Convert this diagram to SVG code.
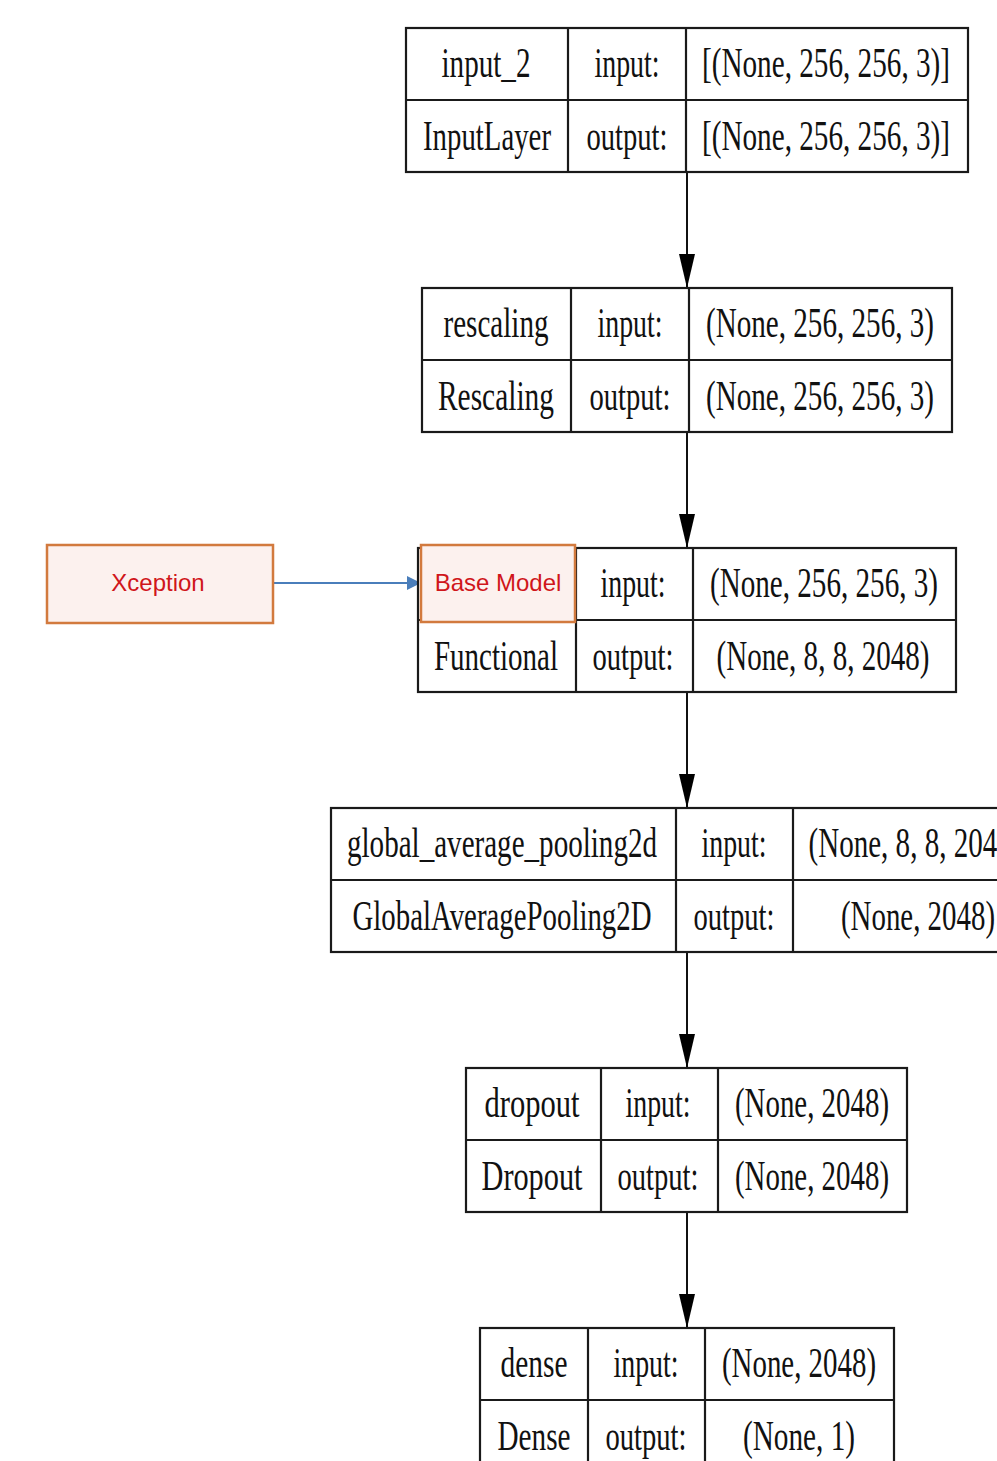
<svg xmlns="http://www.w3.org/2000/svg" width="997" height="1461" viewBox="0 0 997 1461">
<style>
.cell{fill:#fff;stroke:#1a1a1a;stroke-width:2.2}
.ln{stroke:#1a1a1a;stroke-width:2.2;fill:none}
.t{font-family:"Liberation Serif","Times New Roman",serif;font-size:42px;fill:#111;text-anchor:middle}
.edge{stroke:#111;stroke-width:2;fill:none}
.ann{fill:#fcf1ee;stroke:#d27a3e;stroke-width:2.5}
.at{font-family:"Liberation Sans",Arial,sans-serif;font-size:24px;fill:#d0161b;text-anchor:middle}
</style>
<defs>
<marker id="ah" markerWidth="34" markerHeight="16" refX="34" refY="8" orient="auto" markerUnits="userSpaceOnUse" viewBox="0 0 34 16">
<path d="M0,0 L34,8 L0,16 Z" fill="#000"/>
</marker>
<marker id="bh" markerWidth="14" markerHeight="14" refX="14" refY="7" orient="auto" markerUnits="userSpaceOnUse" viewBox="0 0 14 14">
<path d="M0,0 L14,7 L0,14 Z" fill="#4a7ebb"/>
</marker>
</defs>
<rect width="997" height="1461" fill="#fff"/>
<g id="connectors">
<line class="edge" x1="687" y1="172" x2="687" y2="288" marker-end="url(#ah)"/>
<line class="edge" x1="687" y1="432" x2="687" y2="548" marker-end="url(#ah)"/>
<line class="edge" x1="687" y1="692" x2="687" y2="808" marker-end="url(#ah)"/>
<line class="edge" x1="687" y1="952" x2="687" y2="1068" marker-end="url(#ah)"/>
<line class="edge" x1="687" y1="1212" x2="687" y2="1328" marker-end="url(#ah)"/>
<line x1="273" y1="583" x2="421" y2="583" stroke="#4a7ebb" stroke-width="2" marker-end="url(#bh)"/>
</g>
<g id="node-input_2">
<rect class="cell" x="406" y="28" width="562" height="144"/>
<line class="ln" x1="406" y1="100" x2="968" y2="100"/>
<line class="ln" x1="568" y1="28" x2="568" y2="172"/>
<line class="ln" x1="686" y1="28" x2="686" y2="172"/>
<text class="t" x="486" y="77" textLength="89" lengthAdjust="spacingAndGlyphs">input_2</text>
<text class="t" x="487" y="150" textLength="128" lengthAdjust="spacingAndGlyphs">InputLayer</text>
<text class="t" x="627" y="77" textLength="65" lengthAdjust="spacingAndGlyphs">input:</text>
<text class="t" x="627" y="150" textLength="81" lengthAdjust="spacingAndGlyphs">output:</text>
<text class="t" x="826" y="77" textLength="248" lengthAdjust="spacingAndGlyphs">[(None, 256, 256, 3)]</text>
<text class="t" x="826" y="150" textLength="248" lengthAdjust="spacingAndGlyphs">[(None, 256, 256, 3)]</text>
</g>
<g id="node-rescaling">
<rect class="cell" x="422" y="288" width="530" height="144"/>
<line class="ln" x1="422" y1="360" x2="952" y2="360"/>
<line class="ln" x1="571" y1="288" x2="571" y2="432"/>
<line class="ln" x1="689" y1="288" x2="689" y2="432"/>
<text class="t" x="496" y="337" textLength="105" lengthAdjust="spacingAndGlyphs">rescaling</text>
<text class="t" x="496" y="410" textLength="116" lengthAdjust="spacingAndGlyphs">Rescaling</text>
<text class="t" x="630" y="337" textLength="65" lengthAdjust="spacingAndGlyphs">input:</text>
<text class="t" x="630" y="410" textLength="81" lengthAdjust="spacingAndGlyphs">output:</text>
<text class="t" x="820" y="337" textLength="228" lengthAdjust="spacingAndGlyphs">(None, 256, 256, 3)</text>
<text class="t" x="820" y="410" textLength="228" lengthAdjust="spacingAndGlyphs">(None, 256, 256, 3)</text>
</g>
<g id="node-functional">
<rect class="cell" x="418" y="548" width="538" height="144"/>
<line class="ln" x1="418" y1="620" x2="956" y2="620"/>
<line class="ln" x1="576" y1="548" x2="576" y2="692"/>
<line class="ln" x1="693" y1="548" x2="693" y2="692"/>
<text class="t" x="496" y="670" textLength="124" lengthAdjust="spacingAndGlyphs">Functional</text>
<text class="t" x="633" y="597" textLength="65" lengthAdjust="spacingAndGlyphs">input:</text>
<text class="t" x="633" y="670" textLength="81" lengthAdjust="spacingAndGlyphs">output:</text>
<text class="t" x="824" y="597" textLength="228" lengthAdjust="spacingAndGlyphs">(None, 256, 256, 3)</text>
<text class="t" x="823" y="670" textLength="213" lengthAdjust="spacingAndGlyphs">(None, 8, 8, 2048)</text>
</g>
<g id="node-base-model">
<rect class="ann" x="421" y="545" width="154" height="77"/>
<text class="at" x="498" y="591">Base Model</text>
</g>
<g id="node-xception">
<rect class="ann" x="47" y="545" width="226" height="78"/>
<text class="at" x="158" y="591">Xception</text>
</g>
<g id="node-gap">
<rect class="cell" x="331" y="808" width="710" height="144"/>
<line class="ln" x1="331" y1="880" x2="1041" y2="880"/>
<line class="ln" x1="676" y1="808" x2="676" y2="952"/>
<line class="ln" x1="793" y1="808" x2="793" y2="952"/>
<text class="t" x="502" y="857" textLength="310" lengthAdjust="spacingAndGlyphs">global_average_pooling2d</text>
<text class="t" x="502" y="930" textLength="299" lengthAdjust="spacingAndGlyphs">GlobalAveragePooling2D</text>
<text class="t" x="734" y="857" textLength="65" lengthAdjust="spacingAndGlyphs">input:</text>
<text class="t" x="734" y="930" textLength="81" lengthAdjust="spacingAndGlyphs">output:</text>
<text class="t" x="915" y="857" textLength="213" lengthAdjust="spacingAndGlyphs">(None, 8, 8, 2048)</text>
<text class="t" x="918" y="930" textLength="154" lengthAdjust="spacingAndGlyphs">(None, 2048)</text>
</g>
<g id="node-dropout">
<rect class="cell" x="466" y="1068" width="441" height="144"/>
<line class="ln" x1="466" y1="1140" x2="907" y2="1140"/>
<line class="ln" x1="601" y1="1068" x2="601" y2="1212"/>
<line class="ln" x1="718" y1="1068" x2="718" y2="1212"/>
<text class="t" x="532" y="1117" textLength="95" lengthAdjust="spacingAndGlyphs">dropout</text>
<text class="t" x="532" y="1190" textLength="101" lengthAdjust="spacingAndGlyphs">Dropout</text>
<text class="t" x="658" y="1117" textLength="65" lengthAdjust="spacingAndGlyphs">input:</text>
<text class="t" x="658" y="1190" textLength="81" lengthAdjust="spacingAndGlyphs">output:</text>
<text class="t" x="812" y="1117" textLength="154" lengthAdjust="spacingAndGlyphs">(None, 2048)</text>
<text class="t" x="812" y="1190" textLength="154" lengthAdjust="spacingAndGlyphs">(None, 2048)</text>
</g>
<g id="node-dense">
<rect class="cell" x="480" y="1328" width="414" height="144"/>
<line class="ln" x1="480" y1="1400" x2="894" y2="1400"/>
<line class="ln" x1="588" y1="1328" x2="588" y2="1472"/>
<line class="ln" x1="705" y1="1328" x2="705" y2="1472"/>
<text class="t" x="534" y="1377" textLength="67" lengthAdjust="spacingAndGlyphs">dense</text>
<text class="t" x="534" y="1450" textLength="73" lengthAdjust="spacingAndGlyphs">Dense</text>
<text class="t" x="646" y="1377" textLength="65" lengthAdjust="spacingAndGlyphs">input:</text>
<text class="t" x="646" y="1450" textLength="81" lengthAdjust="spacingAndGlyphs">output:</text>
<text class="t" x="799" y="1377" textLength="154" lengthAdjust="spacingAndGlyphs">(None, 2048)</text>
<text class="t" x="799" y="1450" textLength="112" lengthAdjust="spacingAndGlyphs">(None, 1)</text>
</g>
</svg>
